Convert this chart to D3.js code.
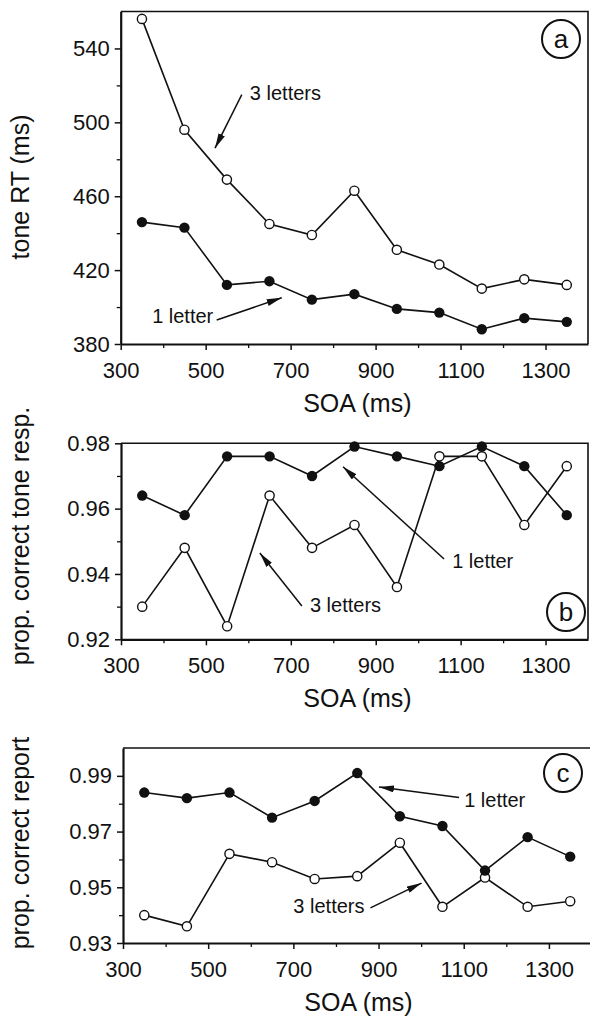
<!DOCTYPE html>
<meta charset="utf-8">
<style>
body { margin: 0; background: #fff; }
text { font-family: "Liberation Sans", Arial, sans-serif; fill: #111; }
.tick text { font-size: 22px; }
.axis path, .axis line { stroke: #111; }
</style>
<body>
<script src="https://cdn.jsdelivr.net/npm/d3@7"></script>
<script>
// SOA values (ms)
var soa = [350, 450, 550, 650, 750, 850, 950, 1050, 1150, 1250, 1350];

// panel a: tone RT (ms)
var rtOne   = [446, 443, 412, 414, 404, 407, 399, 397, 388, 394, 392];
var rtThree = [556, 496, 469, 445, 439, 463, 431, 423, 410, 415, 412];

// panel b: prop. correct tone resp.
var toneOne   = [0.964, 0.958, 0.976, 0.976, 0.970, 0.979, 0.976, 0.973, 0.979, 0.973, 0.958];
var toneThree = [0.930, 0.948, 0.924, 0.964, 0.948, 0.955, 0.936, 0.976, 0.976, 0.955, 0.973];

// panel c: prop. correct report
var reportOne   = [0.984, 0.982, 0.984, 0.975, 0.981, 0.991, 0.9755, 0.972, 0.956, 0.968, 0.961];
var reportThree = [0.940, 0.936, 0.962, 0.959, 0.953, 0.954, 0.966, 0.943, 0.9535, 0.943, 0.945];

// tick values
var xTicks = [300, 500, 700, 900, 1100, 1300];
var xMinor = [400, 600, 800, 1000, 1200];
var rtTicks = [380, 420, 460, 500, 540];
var rtMinor = [400, 440, 480, 520];
var toneTicks = [0.92, 0.94, 0.96, 0.98];
var toneMinor = [0.93, 0.95, 0.97];
var reportTicks = [0.93, 0.95, 0.97, 0.99];
var reportMinor = [0.94, 0.96, 0.98];

// annotations, in data units: [text, text x, text y, arrow from x, y, arrow to x, y]
var notesA = [["3 letters", 604, 512, 585, 515, 522, 486],
              ["1 letter", 374, 391.4, 526, 393, 679, 405]];
var notesB = [["1 letter", 1080, 0.9418, 1061, 0.9446, 823, 0.9728],
              ["3 letters", 745, 0.9284, 726, 0.9302, 627, 0.9464]];
var notesC = [["1 letter", 1101, 0.9788, 1089, 0.9822, 901, 0.986],
              ["3 letters", 700, 0.9408, 881, 0.9426, 1001, 0.9515]];

var W = 590, H = 1017;

var svg = d3.select("body").append("svg")
    .attr("width", W)
    .attr("height", H);

svg.append("defs").append("marker")
    .attr("id", "arrow")
    .attr("viewBox", "0 0 15 7")
    .attr("refX", 15)
    .attr("refY", 3.5)
    .attr("markerWidth", 15)
    .attr("markerHeight", 7)
    .attr("markerUnits", "userSpaceOnUse")
    .attr("orient", "auto")
  .append("path")
    .attr("d", "M0,0 L15,3.5 L0,7 Z")
    .attr("fill", "#111");

var panels = [
  { left: 120.7, right: 588, top: 11.5, bottom: 344, yDomain: [380, 560],
    yTicks: rtTicks, yMinor: rtMinor, fmt: d3.format("d"),
    one: rtOne, three: rtThree, notes: notesA,
    ylabel: "tone RT (ms)", ylabelY: 187, tag: "a", tagY: 39, tagX: 561 },
  { left: 121, right: 588, top: 443.3, bottom: 639.3, yDomain: [0.92, 0.98],
    yTicks: toneTicks, yMinor: toneMinor, fmt: d3.format(".2f"),
    one: toneOne, three: toneThree, notes: notesB,
    ylabel: "prop. correct tone resp.", ylabelY: 536, tag: "b", tagY: 612, tagX: 566 },
  { left: 123, right: 591.5, top: 748, bottom: 943, yDomain: [0.93, 1.0],
    yTicks: reportTicks, yMinor: reportMinor, fmt: d3.format(".2f"),
    one: reportOne, three: reportThree, notes: notesC,
    ylabel: "prop. correct report", ylabelY: 843, tag: "c", tagY: 773, tagX: 563 }
];

panels.forEach(function(p) {
  var x = d3.scaleLinear().domain([300, 1400]).range([p.left, p.right]);
  var y = d3.scaleLinear().domain(p.yDomain).range([p.bottom, p.top]);
  var g = svg.append("g");

  // top and right frame
  g.append("path")
      .attr("d", "M" + p.left + "," + p.top + "H" + p.right + "V" + p.bottom)
      .attr("fill", "none")
      .attr("stroke", "#111")
      .attr("stroke-width", 1.6);

  // minor ticks
  g.append("g").attr("class", "axis")
      .attr("transform", "translate(0," + p.bottom + ")")
      .call(d3.axisBottom(x).tickValues(xMinor).tickSize(4).tickFormat(""))
      .call(function(s) { s.select(".domain").remove(); s.selectAll("line").attr("stroke-width", 1.3); });
  g.append("g").attr("class", "axis")
      .attr("transform", "translate(" + p.left + ",0)")
      .call(d3.axisLeft(y).tickValues(p.yMinor).tickSize(4).tickFormat(""))
      .call(function(s) { s.select(".domain").remove(); s.selectAll("line").attr("stroke-width", 1.3); });

  // major axes
  g.append("g").attr("class", "axis")
      .attr("transform", "translate(0," + p.bottom + ")")
      .call(d3.axisBottom(x).tickValues(xTicks).tickSize(6).tickSizeOuter(0).tickPadding(12).tickFormat(d3.format("d")))
      .call(function(s) {
        s.select(".domain").attr("stroke-width", 2.2);
        s.selectAll("line").attr("stroke-width", 1.5);
      });
  g.append("g").attr("class", "axis")
      .attr("transform", "translate(" + p.left + ",0)")
      .call(d3.axisLeft(y).tickValues(p.yTicks).tickSize(6).tickSizeOuter(0).tickPadding(5).tickFormat(p.fmt))
      .call(function(s) {
        s.select(".domain").attr("stroke-width", 2.2);
        s.selectAll("line").attr("stroke-width", 1.5);
      });
  g.selectAll(".tick text").attr("fill", "#111");

  // axis titles
  g.append("text")
      .attr("x", (p.left + 588) / 2 + 3)
      .attr("y", p.bottom + 68)
      .attr("text-anchor", "middle")
      .style("font-size", "25px")
      .text("SOA (ms)");
  g.append("text")
      .attr("transform", "translate(29," + p.ylabelY + ") rotate(-90)")
      .attr("text-anchor", "middle")
      .style("font-size", "25px")
      .text(p.ylabel);

  // data lines
  var line = d3.line().x(function(d, i) { return x(soa[i]); }).y(function(d) { return y(d); });
  [p.three, p.one].forEach(function(series) {
    g.append("path")
        .datum(series)
        .attr("d", line)
        .attr("fill", "none")
        .attr("stroke", "#111")
        .attr("stroke-width", 1.6);
  });

  g.selectAll(".open").data(p.three).enter().append("circle")
      .attr("cx", function(d, i) { return x(soa[i]); })
      .attr("cy", function(d) { return y(d); })
      .attr("r", 4.6)
      .attr("fill", "#fff")
      .attr("stroke", "#111")
      .attr("stroke-width", 1.4);
  g.selectAll(".filled").data(p.one).enter().append("circle")
      .attr("cx", function(d, i) { return x(soa[i]); })
      .attr("cy", function(d) { return y(d); })
      .attr("r", 5.2)
      .attr("fill", "#111");

  // annotations
  p.notes.forEach(function(n) {
    g.append("text")
        .attr("x", x(n[1]))
        .attr("y", y(n[2]))
        .style("font-size", "20px")
        .text(n[0]);
    g.append("line")
        .attr("x1", x(n[3])).attr("y1", y(n[4]))
        .attr("x2", x(n[5])).attr("y2", y(n[6]))
        .attr("stroke", "#111")
        .attr("stroke-width", 1.5)
        .attr("marker-end", "url(#arrow)");
  });

  // panel tag
  g.append("circle")
      .attr("cx", p.tagX).attr("cy", p.tagY).attr("r", 19)
      .attr("fill", "none")
      .attr("stroke", "#111")
      .attr("stroke-width", 2);
  g.append("text")
      .attr("x", p.tagX).attr("y", p.tagY)
      .attr("dy", "0.35em")
      .attr("text-anchor", "middle")
      .style("font-size", "26px")
      .text(p.tag);
});
</script>
</body>
